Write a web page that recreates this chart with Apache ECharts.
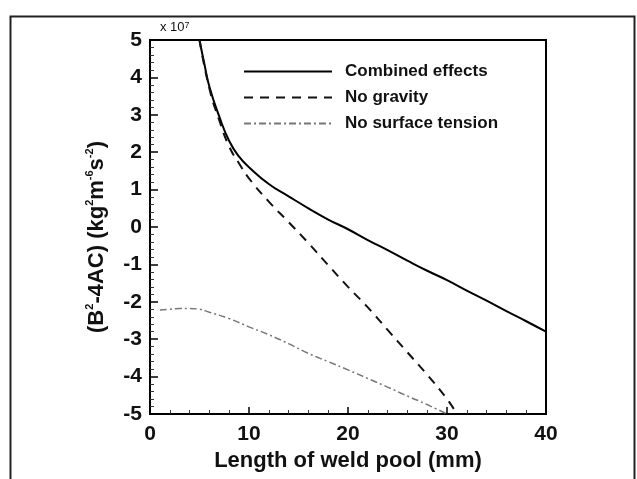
<!DOCTYPE html>
<html>
<head>
<meta charset="utf-8">
<script src="https://cdn.jsdelivr.net/npm/echarts@6/dist/echarts.min.js"></script>
<style>
  html, body { margin: 0; padding: 0; background: #fff; }
  #main { width: 637px; height: 479px; }
</style>
</head>
<body>
<div id="main"></div>
<script>
// length of weld pool (mm) and value of B^2-4AC (x 1e7)
var combinedX = [5, 5.5, 6, 7, 8, 9, 10, 12, 14, 16, 18, 20, 22, 24, 26, 28, 30, 32, 34, 36, 38, 40];
var combinedY = [5.0, 4.35, 3.75, 2.95, 2.3, 1.88, 1.6, 1.15, 0.82, 0.5, 0.2, -0.06, -0.35, -0.62, -0.9, -1.17, -1.42, -1.7, -1.97, -2.25, -2.52, -2.8];

var noGravityX = [5, 6, 7, 8, 9, 10, 12, 14, 16, 18, 20, 22, 24, 26, 28, 30, 31];
var noGravityY = [5.0, 3.7, 2.85, 2.15, 1.7, 1.3, 0.68, 0.13, -0.43, -1.02, -1.6, -2.15, -2.75, -3.35, -3.95, -4.6, -5.0];

var noTensionX = [1, 2, 3, 4, 5, 6, 8, 10, 12, 14, 16, 18, 20, 22, 24, 26, 28, 30];
var noTensionY = [-2.22, -2.2, -2.18, -2.18, -2.2, -2.28, -2.45, -2.67, -2.88, -3.12, -3.38, -3.6, -3.82, -4.05, -4.28, -4.52, -4.75, -5.0];

var seriesNames = ['Combined effects', 'No gravity', 'No surface tension'];

function pairs(xs, ys) {
  var out = [];
  for (var i = 0; i < xs.length; i++) out.push([xs[i], ys[i]]);
  return out;
}

var chart = echarts.init(document.getElementById('main'));
var font = 'Liberation Sans, Arial, sans-serif';

var option = {
  backgroundColor: '#fff',
  animation: false,
  grid: {
    left: 150, right: 91, top: 40, bottom: 65,
    show: true, borderColor: '#000', borderWidth: 2, backgroundColor: 'transparent'
  },
  legend: {
    orient: 'vertical',
    left: 238, top: 58,
    itemWidth: 88, itemHeight: 10, itemGap: 9,
    data: seriesNames,
    itemStyle: { opacity: 0 },
    textStyle: { fontFamily: font, fontWeight: 'bold', fontSize: 17, color: '#111', padding: [0, 0, 0, 8] }
  },
  graphic: [
    {
      type: 'rect', left: 8, top: 14,
      shape: { width: 624, height: 470 },
      style: { fill: 'none', stroke: '#222', lineWidth: 2 }
    },
    {
      type: 'text', left: 160, top: 21,
      style: {
        text: 'x 10{s|7}', fontFamily: font, fontSize: 13, fill: '#111',
        rich: { s: { fontSize: 9, verticalAlign: 'top', fill: '#111' } }
      }
    }
  ],
  xAxis: {
    type: 'value', min: 0, max: 40, interval: 10,
    name: 'Length of weld pool (mm)', nameLocation: 'middle', nameGap: 33,
    nameTextStyle: { fontFamily: font, fontWeight: 'bold', fontSize: 22, color: '#111' },
    axisLine: { onZero: false, lineStyle: { color: '#000', width: 2 } },
    axisTick: { inside: true, length: 7, lineStyle: { color: '#000', width: 1.5 } },
    minorTick: { show: true, splitNumber: 5, length: 4, lineStyle: { color: '#333' } },
    splitLine: { show: false },
    axisLabel: { fontFamily: font, fontWeight: 'bold', fontSize: 21, color: '#111', margin: 10 }
  },
  yAxis: {
    type: 'value', min: -5, max: 5, interval: 1,
    name: '(B{s|2}-4AC) (kg{s|2}m{s|-6}s{s|-2})', nameLocation: 'middle', nameGap: 40,
    nameTextStyle: {
      fontFamily: font, fontWeight: 'bold', fontSize: 22, color: '#111', lineHeight: 26,
      padding: [0, 0, 0, -20],
      rich: { s: { fontFamily: font, fontSize: 11, fontWeight: 'bold', verticalAlign: 'top', lineHeight: 12, color: '#111' } }
    },
    axisLine: { onZero: false, lineStyle: { color: '#000', width: 2 } },
    axisTick: { inside: true, length: 8, lineStyle: { color: '#000', width: 1.5 } },
    minorTick: { show: true, splitNumber: 5, length: 4, lineStyle: { color: '#333' } },
    splitLine: { show: false },
    axisLabel: { fontFamily: font, fontWeight: 'bold', fontSize: 21, color: '#111', margin: 8 }
  },
  series: [
    {
      name: seriesNames[0], type: 'line', smooth: true, symbol: 'none',
      lineStyle: { color: '#000', width: 2 }, itemStyle: { color: '#000' },
      data: pairs(combinedX, combinedY)
    },
    {
      name: seriesNames[1], type: 'line', smooth: true, symbol: 'none',
      lineStyle: { color: '#111', width: 2, type: [9, 7] }, itemStyle: { color: '#111' },
      data: pairs(noGravityX, noGravityY)
    },
    {
      name: seriesNames[2], type: 'line', smooth: true, symbol: 'none',
      lineStyle: { color: '#777', width: 1.5, type: [7, 3, 2, 3] }, itemStyle: { color: '#777' },
      data: pairs(noTensionX, noTensionY)
    }
  ]
};

chart.setOption(option);
</script>
</body>
</html>
